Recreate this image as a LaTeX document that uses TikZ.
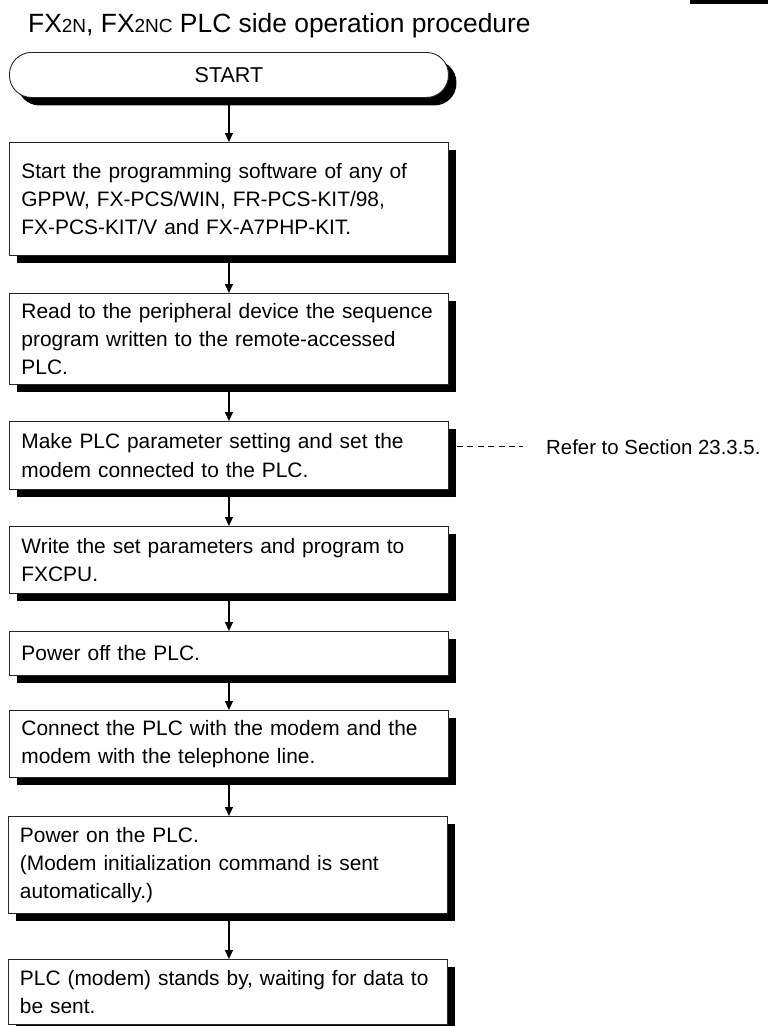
\documentclass[tikz,border=0pt]{standalone}
\usepackage{fontspec}
\setmainfont{Liberation Sans}
\usetikzlibrary{arrows.meta,shadows,positioning}
\tikzset{
  stepbox/.style={draw=black!85, line width=0.9pt, fill=white, rectangle,
    anchor=north west, minimum width=439pt, text width=415pt, inner xsep=12pt,
    inner ysep=2pt, align=left, font=\fontsize{20.9}{28.3}\selectfont,
    drop shadow={shadow xshift=8pt, shadow yshift=-8pt, opacity=1, fill=black}},
  startbox/.style={draw=black!85, line width=0.9pt, fill=white, rectangle,
    rounded corners=22pt, anchor=north west, minimum width=439pt, minimum height=45pt,
    font=\fontsize{21.5}{24}\selectfont,
    drop shadow={shadow xshift=8pt, shadow yshift=-8pt, opacity=1, fill=black}},
  flow/.style={line width=1.3pt, -{Triangle[length=9pt,width=8pt]}},
  note/.style={anchor=base west, inner sep=0pt, font=\fontsize{20.4}{24}\selectfont},
  refline/.style={line width=0.8pt, dash pattern=on 6pt off 4.4pt}
}
\begin{document}
\begin{tikzpicture}[x=1pt,y=-1pt]
\clip (0,0) rectangle (768,1026);
\fill[white] (0,0) rectangle (768,1026);
\fill[black] (690,0) rectangle (768,4);
\node[anchor=base west, inner sep=0pt, font=\fontsize{26.4}{30}\selectfont] (title) at (28,32)
  {FX{\fontsize{19}{20}\selectfont 2N}, FX{\fontsize{19}{20}\selectfont 2NC} PLC side operation procedure};
\node[startbox] (start) at (9,52) {START};
\node[stepbox, minimum height=113pt] (b1) at (9,142)
  {Start the programming software of any of\\GPPW, FX-PCS/WIN, FR-PCS-KIT/98,\\FX-PCS-KIT/V and FX-A7PHP-KIT.};
\node[stepbox, minimum height=91pt] (b2) at (9,293)
  {Read to the peripheral device the sequence\\program written to the remote-accessed\\PLC.};
\node[stepbox, minimum height=68pt] (b3) at (9,421)
  {Make PLC parameter setting and set the\\modem connected to the PLC.};
\node[stepbox, minimum height=67pt] (b4) at (9,526)
  {Write the set parameters and program to\\FXCPU.};
\node[stepbox, minimum height=44pt] (b5) at (9,631)
  {Power off the PLC.};
\node[stepbox, minimum height=67pt] (b6) at (9,710)
  {Connect the PLC with the modem and the\\modem with the telephone line.};
\node[stepbox, minimum height=97pt] (b7) at (7.5,816)
  {Power on the PLC.\\(Modem initialization command is sent\\automatically.)};
\node[stepbox, minimum height=65pt] (b8) at (7.5,959)
  {PLC (modem) stands by, waiting for data to\\be sent.};
\node[note] (refer) at (546,454) {Refer to Section 23.3.5.};
\draw[refline] ([xshift=8pt]b3.east |- refer.west) -- ([xshift=-23pt]refer.west);
\draw[flow] (start.south) -- (start.south |- b1.north);
\draw[flow] (b1.south) -- (b1.south |- b2.north);
\draw[flow] (b2.south) -- (b2.south |- b3.north);
\draw[flow] (b3.south) -- (b3.south |- b4.north);
\draw[flow] (b4.south) -- (b4.south |- b5.north);
\draw[flow] (b5.south) -- (b5.south |- b6.north);
\draw[flow] (b6.south) -- (b6.south |- b7.north);
\draw[flow] (b7.south -| b6.south) -- (b6.south |- b8.north);
\end{tikzpicture}
\end{document}
